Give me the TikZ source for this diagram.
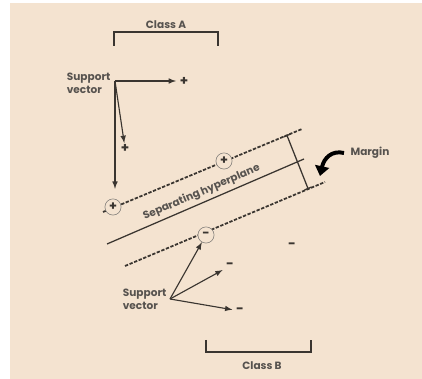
\documentclass[tikz,border=0pt]{standalone}
\usepackage{fontspec}
\setmainfont{Poppins}
\usetikzlibrary{positioning,backgrounds,arrows,arrows.meta}
\definecolor{paper}{HTML}{F4E3D0}
\definecolor{ink}{HTML}{3A3530}
\tikzset{lbl/.style={font=\bfseries\fontsize{7.5}{9}\selectfont,text=ink!85,inner sep=1pt},
         sv/.style={circle,draw=ink!65,fill=paper,thin,minimum size=11.5pt,inner sep=0pt,
                    font=\bfseries\fontsize{9}{9}\selectfont,text=ink},
         sign/.style={font=\bfseries\fontsize{9.5}{9}\selectfont,text=ink,inner sep=0.5pt},
         vec/.style={-latex,ink,line width=0.8pt},
         margin line/.style={ink,line width=1.25pt,dash pattern=on 2.4pt off 1.1pt},
         bracket/.style={ink,line width=0.9pt}}

\begin{document}
\begin{tikzpicture}[x=0.025cm,y=-0.025cm]
\useasboundingbox (0,0) rectangle (422,379);
\begin{scope}[on background layer]
\fill[paper] (10,3) rectangle (422,379);
\end{scope}

% brackets for the two classes
\coordinate (A1) at (114,46);
\coordinate (A2) at (218,46);
\draw[bracket] (A1) -- ++(0,-14) -| (A2);
\node[lbl] (classA) at (166,25) {Class A};

\coordinate (B1) at (206,340);
\coordinate (B2) at (311,340);
\draw[bracket] (B1) -- ++(0,12) -| (B2);
\node[lbl] (classB) at (262,366) {Class B};

% margins and hyperplane
\coordinate (u1) at (103,212);
\coordinate (u2) at (302,129);
\coordinate (h1) at (107,244);
\coordinate (h2) at (304,159);
\coordinate (l1) at (125,266);
\coordinate (l2) at (325,182);
\draw[margin line] (u1) -- (u2);
\draw[margin line] (l1) -- (l2);
\draw[ink,line width=0.9pt] (h1) -- (h2)
    node[lbl,pos=0.5,sloped,above=1.5pt] (hyp) {Separating hyperplane};

\coordinate (m1) at (287,135.5);
\coordinate (m2) at (308,188.5);
\draw[ink,line width=0.9pt] (m1) -- (m2);
\draw[ink,line width=0.9pt] (m1) ++(-3.5,1.5) -- ++(7,-3);
\draw[ink,line width=0.9pt] (m2) ++(-3.5,1.5) -- ++(7,-3);

\node[lbl] (margin) at (370,153) {Margin};
\coordinate (ms) at (344,153);
\coordinate (mt) at (320,176);
\draw[black,line width=2.8pt,-{Triangle[length=7pt,width=10pt]}]
    (ms) .. controls (332,150) and (324,158) .. (mt);

% class A points
\node[lbl,align=left,anchor=east] (svA) at (112,83) {Support\\vector};
\coordinate (oA) at (115,81);
\node[sign] (pA1) at (184,81) {+};
\node[sign] (pA2) at (125,148) {+};
\node[sv] (cA1) at (113,207) {+};
\node[sv] (cA2) at (224,161) {+};
\draw[vec,shorten >=2pt] (oA) -- (pA1);
\draw[vec] (oA) -- (pA2);
\draw[vec,shorten >=7pt] (oA) -- (oA |- cA1.north);

% class B points
\node[lbl,align=left,anchor=east] (svB) at (168,299) {Support\\vector};
\coordinate (oB) at (170,299);
\node[sv] (cB) at (206,235) {-};
\node[sign] (mB1) at (230,266) {-};
\node[sign] (mB2) at (240,311) {-};
\node[sign] (mB3) at (292,246) {-};
\draw[vec] (oB) -- (cB);
\draw[vec,shorten >=2pt] (oB) -- (mB1);
\draw[vec,shorten >=2pt] (oB) -- (mB2);
\end{tikzpicture}
\end{document}
